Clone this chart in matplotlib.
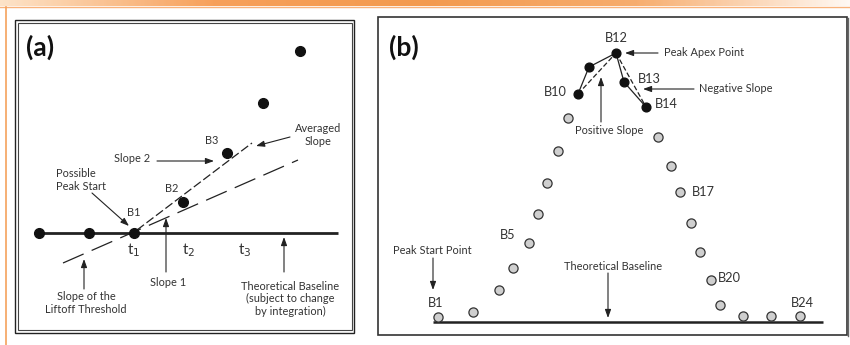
import numpy as np
import matplotlib.pyplot as plt
from matplotlib.patches import Rectangle
from matplotlib.colors import LinearSegmentedColormap

plt.rcParams['font.family'] = ['Lato', 'DejaVu Sans']

# ---- panel (a) data (diagram units, y grows downward) ----
a_base_x = [39, 338]
a_base_y = 233
a_pts_x = [39, 89, 134, 183, 227, 263, 300]
a_pts_y = [233, 233, 233, 202, 153, 103, 51]
a_steep_x = [137, 252]          # slope 2 / averaged slope line
a_steep_y = [230, 143]
a_shallow_x = [63, 298]         # liftoff threshold / slope 1 line
a_shallow_y = [263, 160]
a_t_labels = ["t$_1$", "t$_2$", "t$_3$"]
a_t_x = [134, 189, 245]

# ---- panel (b) data ----
b_base_x = [433, 823]
b_base_y = 322
b_x = [438, 473, 499, 513, 529, 538, 547, 558, 568, 578, 589, 616,
       624, 646, 658, 671, 680, 691, 700, 711, 720, 743, 771, 800]
b_y = [317, 312, 290, 268, 243, 214, 183, 151, 118, 94, 67, 53,
       82, 107, 137, 166, 192, 223, 252, 280, 305, 316, 316, 316]
b_apex = [9, 10, 11, 12, 13]    # indices of the black points (B10..B14)

fig = plt.figure(figsize=(8.5, 3.45), dpi=100)
ax = fig.add_axes([0, 0, 1, 1])
ax.set_xlim(0, 850)
ax.set_ylim(345, 0)
ax.axis('off')

# orange header bar with gradient
cmap = LinearSegmentedColormap.from_list(
    'hdr', ['#fde3c8', '#f7a05a', '#f39a4e', '#f7ad6e', '#fff8f2'])
grad = np.linspace(0, 1, 400).reshape(1, -1)
ax.imshow(grad, cmap=cmap, extent=[0, 850, 6, 0], aspect='auto', zorder=0)
ax.plot([0, 850], [6.5, 6.5], color='#f9b27a', lw=1.0)
ax.plot([6, 6], [7, 345], color='#f5a25c', lw=1.2)

# panel frames
ax.add_patch(Rectangle((15, 20), 339, 313, fill=False, ec='#222222', lw=1.0))
ax.add_patch(Rectangle((18, 23), 334, 307, fill=False, ec='#444444', lw=0.8))
ax.add_patch(Rectangle((378, 17), 469, 318, fill=False, ec='#333333', lw=1.2))
ax.plot([848, 848], [18, 336], color='#666666', lw=1.0)

lab = dict(color='#333333', fontsize=7.9)

# ================= panel (a) =================
ax.text(26, 47, "(a)", fontsize=19, fontweight='bold', va='center', color='#111111')
ax.plot(a_base_x, [a_base_y] * 2, color='#222222', lw=2.0, solid_capstyle='butt', zorder=2)
ax.plot(a_shallow_x, a_shallow_y, color='#222222', lw=0.9, dashes=(18, 7), zorder=2)
ax.plot(a_steep_x, a_steep_y, color='#222222', lw=0.9, dashes=(7, 2.5), zorder=2)
ax.plot(a_pts_x, a_pts_y, 'o', color='#111111', ms=7.0, zorder=3)

ax.text(134, 213, "B1", ha='center', va='center', **lab)
ax.text(172, 189, "B2", ha='center', va='center', **lab)
ax.text(212, 141, "B3", ha='center', va='center', **lab)
for t, x in zip(a_t_labels, a_t_x):
    ax.text(x, 250, t, ha='center', va='center', fontsize=11, color='#333333')

arr = dict(arrowstyle='-|>,head_length=0.5,head_width=0.18', color='#222222', lw=0.8,
           shrinkA=0, shrinkB=0)
ax.text(56, 180, "Possible\nPeak Start", ha='left', va='center', linespacing=1.15, **lab)
ax.annotate("", xy=(129, 226), xytext=(92, 193), arrowprops=arr)
ax.text(132, 159, "Slope 2", ha='center', va='center', **lab)
ax.annotate("", xy=(214, 161), xytext=(157, 161), arrowprops=arr)
ax.text(318, 135, "Averaged\nSlope", ha='center', va='center', linespacing=1.15, **lab)
ax.annotate("", xy=(256, 146), xytext=(290, 137), arrowprops=arr)
ax.text(168, 283, "Slope 1", ha='center', va='center', **lab)
ax.annotate("", xy=(166, 218), xytext=(166, 272), arrowprops=arr)
ax.text(86, 303, "Slope of the\nLiftoff Threshold", ha='center', va='center',
        linespacing=1.15, **lab)
ax.annotate("", xy=(84, 259), xytext=(84, 289), arrowprops=arr)
ax.text(290, 299, "Theoretical Baseline\n(subject to change\nby integration)",
        ha='center', va='center', linespacing=1.15, **lab)
ax.annotate("", xy=(284, 237), xytext=(284, 272), arrowprops=arr)

# ================= panel (b) =================
ax.text(389, 47, "(b)", fontsize=19, fontweight='bold', va='center', color='#111111')
ax.plot(b_base_x, [b_base_y] * 2, color='#222222', lw=1.8, solid_capstyle='butt', zorder=2)

bx = np.array(b_x)
by = np.array(b_y)
i10, i11, i12, i13, i14 = b_apex
ax.plot(bx[[i10, i11, i12]], by[[i10, i11, i12]], color='#222222', lw=0.9, zorder=2)
ax.plot(bx[[i12, i13, i14]], by[[i12, i13, i14]], color='#222222', lw=0.9, zorder=2)
ax.plot(bx[[i10, i12]], by[[i10, i12]], color='#222222', lw=0.9, dashes=(4, 2), zorder=2)
ax.plot(bx[[i12, i14]], by[[i12, i14]], color='#222222', lw=0.9, dashes=(4, 2), zorder=2)

grey = [i for i in range(len(b_x)) if i not in b_apex]
ax.plot(bx[grey], by[grey], 'o', mfc='#cfcfcf', mec='#333333', mew=0.9, ms=6.6, zorder=3)
ax.plot(bx[b_apex], by[b_apex], 'o', color='#111111', ms=6.3, zorder=3)

blab = dict(color='#333333', fontsize=9.2)
ax.text(616, 38, "B12", ha='center', va='center', **blab)
ax.text(638, 79, "B13", ha='left', va='center', **blab)
ax.text(567, 92, "B10", ha='right', va='center', **blab)
ax.text(655, 104, "B14", ha='left', va='center', **blab)
ax.text(692, 192, "B17", ha='left', va='center', **blab)
ax.text(508, 235, "B5", ha='center', va='center', **blab)
ax.text(718, 278, "B20", ha='left', va='center', **blab)
ax.text(802, 303, "B24", ha='center', va='center', **blab)
ax.text(428, 303, "B1", ha='left', va='center', **blab)

ax.text(664, 52, "Peak Apex Point", ha='left', va='center', **lab)
ax.annotate("", xy=(625, 53), xytext=(658, 53), arrowprops=arr)
ax.text(699, 89, "Negative Slope", ha='left', va='center', **lab)
ax.annotate("", xy=(643, 89), xytext=(694, 89), arrowprops=arr)
ax.text(609, 130, "Positive Slope", ha='center', va='center', **lab)
ax.annotate("", xy=(601, 77), xytext=(601, 122), arrowprops=arr)
ax.text(393, 251, "Peak Start Point", ha='left', va='center', **lab)
ax.annotate("", xy=(433, 290), xytext=(433, 258), arrowprops=arr)
ax.text(613, 266, "Theoretical Baseline", ha='center', va='center', **lab)
ax.annotate("", xy=(608, 318), xytext=(608, 273), arrowprops=arr)

fig.savefig("out.png", dpi=100)
